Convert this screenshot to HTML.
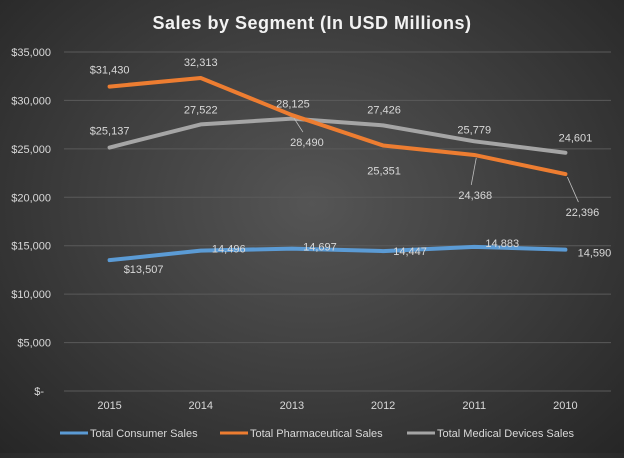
<!DOCTYPE html>
<html><head><meta charset="utf-8"><style>
html,body{margin:0;padding:0;}
body{width:624px;height:453px;overflow:hidden;background:radial-gradient(ellipse at 50% 45%,#555 0%,#3e3e3e 50%,#262626 100%);font-family:"Liberation Sans",sans-serif;}
svg text{font-family:"Liberation Sans",sans-serif;}
</style></head><body>
<svg id="chart" width="624" height="453" xmlns="http://www.w3.org/2000/svg">
<text x="312" y="29" text-anchor="middle" font-size="18" font-weight="bold" fill="#f2f2f2" letter-spacing="0.5">Sales by Segment (In USD Millions)</text>
<g id="grid"></g><g id="axes"></g><g id="series"></g><g id="labels"></g>
<g font-size="11" fill="#d9d9d9">
<line x1="60" y1="433" x2="88" y2="433" stroke="#5b9bd5" stroke-width="3"/>
<text x="90" y="437">Total Consumer Sales</text>
<line x1="220" y1="433" x2="248" y2="433" stroke="#ed7d31" stroke-width="3"/>
<text x="250" y="437">Total Pharmaceutical Sales</text>
<line x1="407" y1="433" x2="435" y2="433" stroke="#a5a5a5" stroke-width="3"/>
<text x="437" y="437">Total Medical Devices Sales</text>
</g>
</svg>
<script>
const categories=["2015","2014","2013","2012","2011","2010"];
const consumer=[13507,14496,14697,14447,14883,14590];
const pharma=[31430,32313,28490,25351,24368,22396];
const medical=[25137,27522,28125,27426,25779,24601];
const yTicks=[0,5000,10000,15000,20000,25000,30000,35000];
const yTickLabels=["$-","$5,000","$10,000","$15,000","$20,000","$25,000","$30,000","$35,000"];
const consumerLabels=["$13,507","14,496","14,697","14,447","14,883","14,590"];
const pharmaLabels=["$31,430","32,313","28,490","25,351","24,368","22,396"];
const medicalLabels=["$25,137","27,522","28,125","27,426","25,779","24,601"];
// label offsets (styling, px)
const consumerOff=[[34,9],[28,-2],[28,-2],[27,0],[28,-4],[29,3]];
const pharmaOff=[[0,-17],[0,-16],[15,27],[1,25],[1,40],[17,38]];
const medicalOff=[[0,-17],[0,-15],[1,-15],[1,-16],[0,-12],[10,-15]];
const pharmaLeader=[false,false,true,false,true,true];
const NS="http://www.w3.org/2000/svg";
const L=64,R=611,T=52,B=391,YMAX=35000;
const xs=i=>L+(R-L)/categories.length*(i+0.5);
const ys=v=>B-v/YMAX*(B-T);
function mk(t,a,p){const e=document.createElementNS(NS,t);for(const k in a)e.setAttribute(k,a[k]);p.appendChild(e);return e;}
const grid=document.getElementById('grid'),axes=document.getElementById('axes'),ser=document.getElementById('series'),lab=document.getElementById('labels');
yTicks.forEach((v,i)=>{
 const g=mk('line',{x1:L,x2:R,y1:ys(v),y2:ys(v),stroke:'#5a5a5a','stroke-width':1},grid);
 
 
 const t=mk('text',{x:i===0?44:51,y:ys(v)+4,'text-anchor':'end','font-size':11,fill:'#d9d9d9'},axes);
 t.textContent=yTickLabels[i];
 
 
});
categories.forEach((c,i)=>{
 const t=mk('text',{x:xs(i),y:409,'text-anchor':'middle','font-size':11,fill:'#d9d9d9'},axes);
 t.textContent=c;
 
 
});
function series(vals,color,name,labels,off,leader){
 const pts=vals.map((v,i)=>xs(i)+','+ys(v)).join(' ');
 const p=mk('polyline',{points:pts,fill:'none',stroke:color,'stroke-width':4,'stroke-linejoin':'round','stroke-linecap':'round'},ser);
 
 
 vals.forEach((v,i)=>{
  const x=xs(i)+off[i][0],y=ys(v)+off[i][1];
  if(leader&&leader[i]){
   const l=mk('line',{x1:xs(i)+2,y1:ys(v)+3,x2:x-4,y2:y-10,stroke:'#bfbfbf','stroke-width':0.8},lab);
   
   
  }
  const t=mk('text',{x:x,y:y+4,'text-anchor':'middle','font-size':11,fill:'#d9d9d9'},lab);
  t.textContent=labels[i];
  
  
 });
}
series(medical,'#a5a5a5','medical-devices',medicalLabels,medicalOff,null);
series(pharma,'#ed7d31','pharmaceutical',pharmaLabels,pharmaOff,pharmaLeader);
series(consumer,'#5b9bd5','consumer',consumerLabels,consumerOff,null);
</script>
</body></html>
